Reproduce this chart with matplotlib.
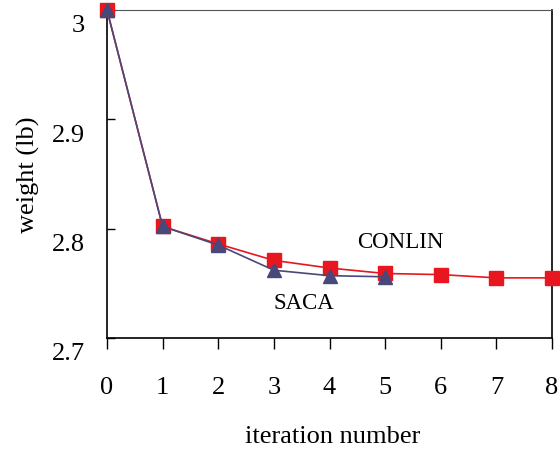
import matplotlib.pyplot as plt
from matplotlib.transforms import ScaledTranslation

plt.rcParams['font.family'] = 'Liberation Serif'

# data
iters_conlin = [0, 1, 2, 3, 4, 5, 6, 7, 8]
w_conlin = [3.0, 2.802, 2.786, 2.771, 2.764, 2.759, 2.758, 2.755, 2.755]
iters_saca = [0, 1, 2, 3, 4, 5]
w_saca = [3.0, 2.802, 2.785, 2.762, 2.757, 2.756]

fig = plt.figure(figsize=(5.6, 4.51), dpi=100)
ax = fig.add_axes([107/560, 1-338/451, 445/560, 328/451])

ax.plot(iters_conlin, w_conlin, color='#e8161e', lw=1.2, marker='s',
        markersize=10, clip_on=False, zorder=3)
ax.plot(iters_saca, w_saca, color='#48487a', lw=1.2, marker='^',
        markersize=10.5, clip_on=False, zorder=4)

ax.set_xlim(0, 8)
ax.set_ylim(2.7, 3.0)
ax.set_xticks(range(9))
ax.set_yticks([2.7, 2.8, 2.9, 3.0])
ax.set_yticklabels(['2.7', '2.8', '2.9', '3'])

ax.tick_params(axis='x', direction='out', length=8, width=1, pad=20, labelsize=19)
ax.tick_params(axis='y', direction='in', length=6, width=1, pad=16, labelsize=19)
for s in ax.spines.values():
    s.set_linewidth(1.2)
ax.spines['top'].set_color('#555555')
ax.spines['top'].set_linewidth(0.8)

# y tick labels sit a bit below their ticks in the original
off = ScaledTranslation(0, -14/100, fig.dpi_scale_trans)
for lab in ax.get_yticklabels():
    lab.set_transform(lab.get_transform() + off)

ax.text(5.27, 2.787, 'CONLIN', fontsize=16.5, ha='center', va='center')
ax.text(3.54, 2.732, 'SACA', fontsize=16.5, ha='center', va='center')

fig.text(333/560, 1-437/451, 'iteration number', fontsize=19, ha='center', va='center')
fig.text(28/560, 1-175/451, 'weight (lb)', fontsize=19, ha='center', va='center', rotation=90)

fig.savefig('out.png', dpi=100)
